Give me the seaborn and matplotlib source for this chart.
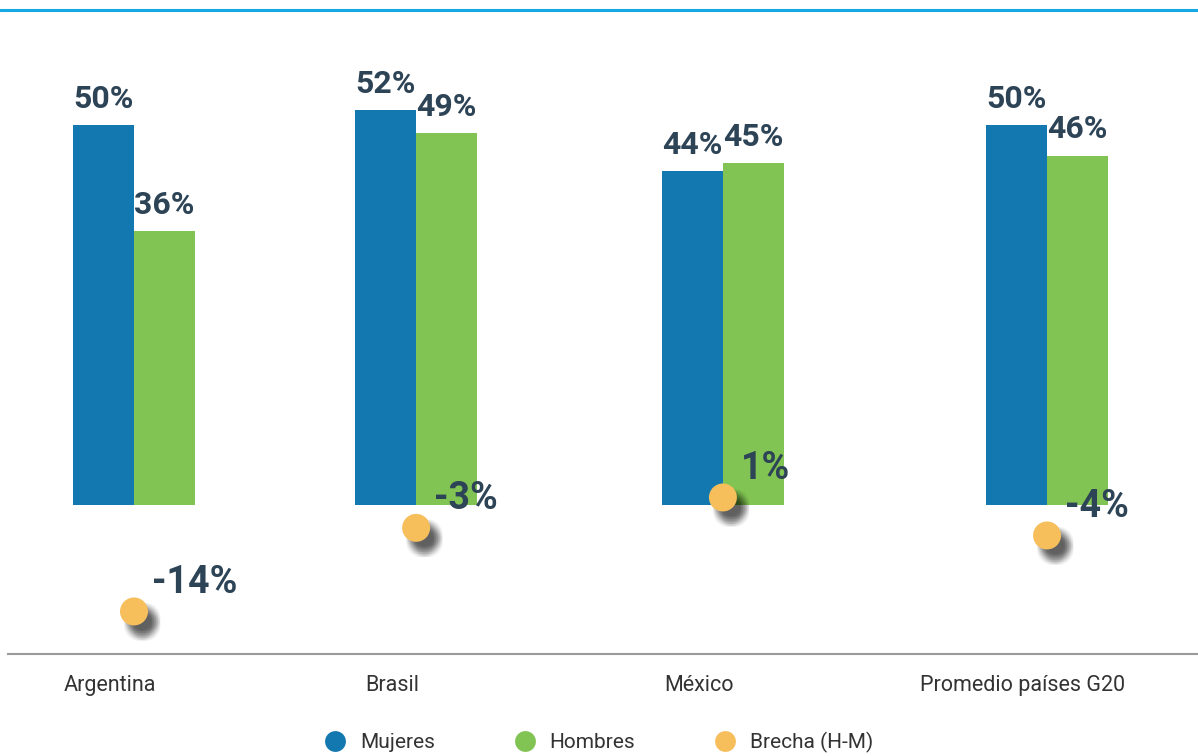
import numpy as np
import pandas as pd
import matplotlib
matplotlib.use("Agg")
import matplotlib.pyplot as plt
import matplotlib.patheffects as pe
from matplotlib.lines import Line2D
from matplotlib.transforms import ScaledTranslation
import seaborn as sns

# --- data -------------------------------------------------------------
countries = ["Argentina", "Brasil", "México", "Promedio países G20"]
mujeres = [50, 52, 44, 50]
hombres = [36, 49, 45, 46]
brecha = [-14, -3, 1, -4]
series_names = ["Mujeres", "Hombres", "Brecha (H-M)"]

# --- layout / style ---------------------------------------------------
slot_x = [0.0, 0.927, 1.935, 3.0]          # group centres (uneven spacing)
palette = ["#1378B0", "#82C453", "#F6BF5C"]
TEXT_DARK = "#2D4356"
TEXT_GRAY = "#333333"

sns.set_theme(style="white")
plt.rcParams["font.family"] = ["Roboto", "DejaVu Sans"]

bars_df = pd.DataFrame({
    "x": slot_x * 2,
    "valor": mujeres + hombres,
    "serie": [series_names[0]] * len(mujeres) + [series_names[1]] * len(hombres),
})
gap_df = pd.DataFrame({"x": slot_x, "brecha": brecha})

W, H = 1198, 756
fig = plt.figure(figsize=(W / 100, H / 100), dpi=100)
ax = fig.add_axes([8 / W, 1 - 654 / H, 1 - 8 / W, (654 - 40) / H])

# grouped bars
bar_w = 0.4 / np.min(np.diff(slot_x))
sns.barplot(data=bars_df, x="x", y="valor", hue="serie", hue_order=series_names[:2],
            palette=palette[:2], native_scale=True, width=bar_w, errorbar=None,
            saturation=1, legend=False, linewidth=0, ax=ax, zorder=2)

for cont in ax.containers:
    ax.bar_label(cont, labels=[f"{v:.0f}%" for v in cont.datavalues], padding=8,
                 fontsize=23, fontweight="bold", color=TEXT_DARK)

# gap points with a soft drop shadow
sns.scatterplot(data=gap_df, x="x", y="brecha", s=406, color=palette[2],
                edgecolor="none", legend=False, ax=ax, zorder=4)
shadow = []
for dx in np.linspace(3, 9, 5):
    for dy in np.linspace(-4, -11, 5):
        shadow.append(pe.SimplePatchShadow(offset=(dx, dy), shadow_rgbFace="black",
                                           alpha=0.035))
shadow.append(pe.Normal())
ax.collections[-1].set_path_effects(shadow)

for xv, yv in zip(gap_df["x"], gap_df["brecha"]):
    ax.annotate(f"{yv}%", (xv, yv), xytext=(13, 21), textcoords="offset points",
                ha="left", va="center", fontsize=27, fontweight="bold",
                color=TEXT_DARK, zorder=5)

# axes
ax.set_xlim(-0.414, 3.496)
ax.set_ylim(-19.6, 61.2)
for side in ["left", "right", "top"]:
    ax.spines[side].set_visible(False)
ax.spines["bottom"].set_color("#9A9A9A")
ax.spines["bottom"].set_linewidth(1.5)
ax.set_yticks([])
ax.set_xticks(slot_x)
ax.set_xticklabels(countries, fontsize=15.5, color=TEXT_GRAY)
ax.tick_params(axis="x", length=0, pad=15)
shift = ScaledTranslation(-24 / 100, 0, fig.dpi_scale_trans)
for lab in ax.get_xticklabels():
    lab.set_transform(lab.get_transform() + shift)
ax.set_xlabel("")
ax.set_ylabel("")

# legend
handles = [Line2D([], [], marker="o", linestyle="none", markersize=15,
                  markerfacecolor=c, markeredgecolor="none") for c in palette]
fig.legend(handles, series_names, loc="center", bbox_to_anchor=(0.5, 14 / H), ncol=3,
           frameon=False, fontsize=15, handletextpad=0.7, columnspacing=3.8,
           handlelength=1.0, labelcolor=TEXT_GRAY)

# top rule
fig.add_artist(Line2D([0, 1], [1 - 10 / H] * 2, transform=fig.transFigure,
                      color="#14A9E2", linewidth=2.2))

fig.savefig("out.png", dpi=100)
